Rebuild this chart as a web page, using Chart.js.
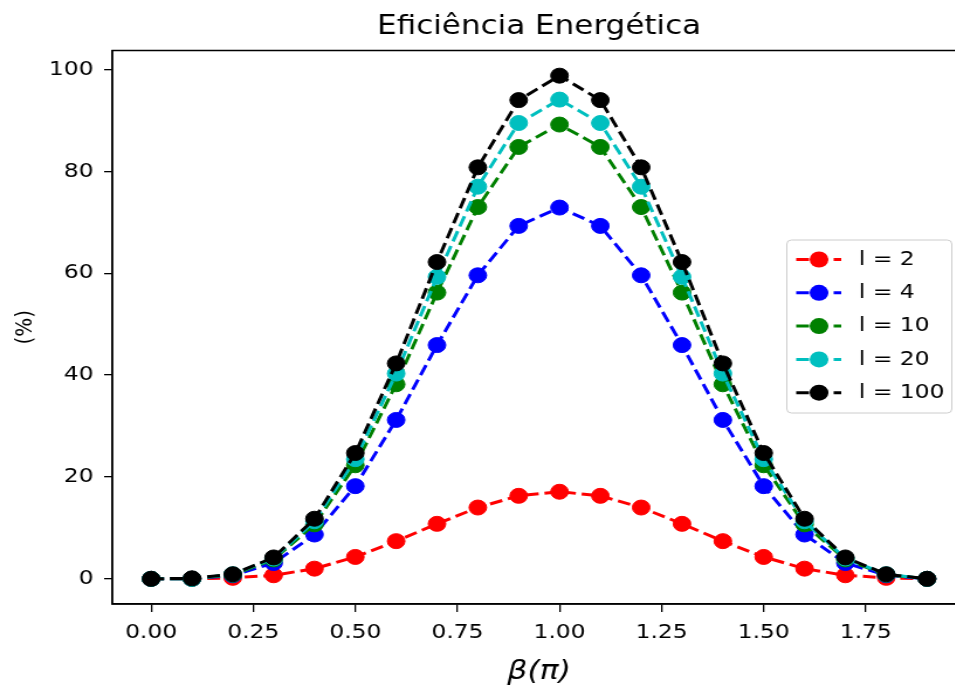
<!DOCTYPE html>
<html>
<head>
<meta charset="utf-8">
<script src="https://cdn.jsdelivr.net/npm/chart.js@4.4.1/dist/chart.umd.min.js"></script>
<style>
    html, body { margin: 0; padding: 0; background: #fff; overflow: hidden; }
    /* la figura original está estirada en horizontal (~1.17) */
    #grafico { display: block; transform: scaleX(1.17); transform-origin: 0 0; }
</style>
</head>
<body>
<canvas id="grafico" width="834" height="693"></canvas>
<script>
/**************************************
 * DATOS
 **************************************/
const beta = [0.0, 0.1, 0.2, 0.3, 0.4, 0.5, 0.6, 0.7, 0.8, 0.9,
              1.0, 1.1, 1.2, 1.3, 1.4, 1.5, 1.6, 1.7, 1.8, 1.9];

const l2   = [0.0, 0.0, 0.2, 0.7, 2.0, 4.3, 7.4, 10.8, 14.0, 16.3, 17.1, 16.3, 14.0, 10.8, 7.4, 4.3, 2.0, 0.7, 0.2, 0.0];
const l4   = [0.0, 0.0, 0.7, 3.1, 8.7, 18.2, 31.2, 45.9, 59.6, 69.3, 72.9, 69.3, 59.6, 45.9, 31.2, 18.2, 8.7, 3.1, 0.7, 0.0];
const l10  = [0.0, 0.0, 0.8, 3.8, 10.7, 22.3, 38.2, 56.2, 73.0, 84.8, 89.2, 84.8, 73.0, 56.2, 38.2, 22.3, 10.7, 3.8, 0.8, 0.0];
const l20  = [0.0, 0.0, 0.9, 4.0, 11.3, 23.5, 40.3, 59.3, 77.0, 89.5, 94.1, 89.5, 77.0, 59.3, 40.3, 23.5, 11.3, 4.0, 0.9, 0.0];
const l100 = [0.0, 0.1, 0.9, 4.2, 11.8, 24.7, 42.3, 62.2, 80.8, 94.0, 98.8, 94.0, 80.8, 62.2, 42.3, 24.7, 11.8, 4.2, 0.9, 0.0];

const rotulos = ["l = 2", "l = 4", "l = 10", "l = 20", "l = 100"];
const cores   = ["#ff0000", "#0000ff", "#008000", "#00bfbf", "#000000"];
const series  = [l2, l4, l10, l20, l100];

const xTicks = [0, 0.25, 0.5, 0.75, 1.0, 1.25, 1.5, 1.75];
const yTicks = [0, 20, 40, 60, 80, 100];

const FONTE = "'DejaVu Sans', sans-serif";
const TRACO = [11, 5];

/**************************************
 * PLUGINS: moldura e legenda estilo matplotlib
 **************************************/
const moldura = {
    id: "moldura",
    afterDatasetsDraw(chart) {
        const { ctx, chartArea: a } = chart;
        ctx.save();
        ctx.strokeStyle = "#000";
        ctx.lineWidth = 1.5;
        ctx.strokeRect(a.left, a.top, a.right - a.left, a.bottom - a.top);
        ctx.restore();
    }
};

const legenda = {
    id: "legendaMpl",
    afterDraw(chart) {
        const ctx = chart.ctx;
        const x0 = 672.5, y0 = 240, w = 141, h = 173, r = 4;
        ctx.save();
        ctx.beginPath();
        ctx.roundRect(x0, y0, w, h, r);
        ctx.fillStyle = "rgba(255,255,255,0.8)";
        ctx.fill();
        ctx.strokeStyle = "#cccccc";
        ctx.lineWidth = 1;
        ctx.stroke();

        rotulos.forEach((txt, i) => {
            const y = 259.5 + i * 33.3;
            ctx.strokeStyle = cores[i];
            ctx.lineWidth = 3;
            ctx.setLineDash(TRACO);
            ctx.beginPath();
            ctx.moveTo(680.5, y);
            ctx.lineTo(719, y);
            ctx.stroke();
            ctx.setLineDash([]);
            ctx.beginPath();
            ctx.arc(700, y, 8, 0, Math.PI * 2);
            ctx.fillStyle = cores[i];
            ctx.fill();

            ctx.fillStyle = "#000";
            ctx.font = "20px " + FONTE;
            ctx.textBaseline = "middle";
            ctx.textAlign = "left";
            ctx.fillText(txt, 734, y);
        });
        ctx.restore();
    }
};

/**************************************
 * GRÁFICO
 **************************************/
const datasets = series.map((s, i) => ({
    label: rotulos[i],
    data: beta.map((b, j) => ({ x: b, y: s[j] })),
    borderColor: cores[i],
    backgroundColor: cores[i],
    borderWidth: 3,
    borderDash: TRACO,
    pointRadius: 7.5,
    pointBorderWidth: 1,
    pointBackgroundColor: cores[i],
    pointBorderColor: cores[i],
    tension: 0,
    order: series.length - i   // l = 100 fica por cima
}));

const grafico = new Chart(document.getElementById("grafico"), {
    type: "line",
    data: { datasets },
    options: {
        responsive: false,
        devicePixelRatio: 1,
        animation: false,
        layout: { padding: { top: 0, right: 2, bottom: 0, left: 0 } },
        plugins: {
            legend: { display: false },
            tooltip: { enabled: false },
            title: {
                display: true,
                text: "Eficiência Energética",
                color: "#000",
                fullSize: false,
                font: { family: FONTE, size: 26.5, weight: "normal", lineHeight: 1.2 },
                padding: { top: 11, bottom: 7.7 }
            }
        },
        scales: {
            x: {
                type: "linear",
                min: -0.095,
                max: 1.995,
                afterBuildTicks: s => { s.ticks = xTicks.map(v => ({ value: v })); },
                afterFit: s => { s.height = 89; },
                ticks: {
                    color: "#000",
                    padding: 9,
                    maxRotation: 0,
                    font: { family: FONTE, size: 20 },
                    callback: v => Number(v).toFixed(2)
                },
                grid: { drawOnChartArea: false, drawTicks: true, tickLength: 8, color: "#000", lineWidth: 1.3 },
                border: { display: true, color: "#000", width: 1.5 },
                title: {
                    display: true,
                    text: "β(π)",
                    color: "#000",
                    font: { family: FONTE, size: 27, style: "italic", lineHeight: 1.2 },
                    padding: { top: 0, bottom: 5 }
                }
            },
            y: {
                min: -4.94,
                max: 103.74,
                afterBuildTicks: s => { s.ticks = yTicks.map(v => ({ value: v })); },
                afterFit: s => { s.width = 96; },
                ticks: {
                    color: "#000",
                    padding: 9,
                    font: { family: FONTE, size: 20 },
                    callback: v => String(v)
                },
                grid: { drawOnChartArea: false, drawTicks: true, tickLength: 7, color: "#000", lineWidth: 1.3 },
                border: { display: true, color: "#000", width: 1.5 },
                title: {
                    display: true,
                    text: "(%)",
                    color: "#000",
                    font: { family: FONTE, size: 20, lineHeight: 1.2 },
                    padding: { top: 9.5, bottom: 0 }
                }
            }
        }
    },
    plugins: [moldura, legenda]
});
</script>
</body>
</html>
